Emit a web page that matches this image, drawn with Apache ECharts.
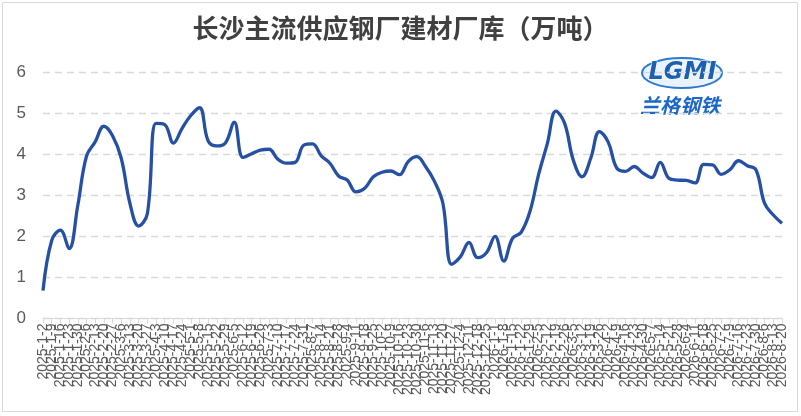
<!DOCTYPE html>
<html>
<head>
<meta charset="utf-8">
<script src="https://cdn.jsdelivr.net/npm/echarts@6/dist/echarts.min.js"></script>
<style>
html,body{margin:0;padding:0;background:#fff;}
#chart{width:801px;height:416px;}
</style>
</head>
<body>
<div id="chart"></div>
<script>
var titleText = '长沙主流供应钢厂建材厂库（万吨）';
var dates = [
'2025-1-2','2025-1-9','2025-1-16','2025-1-23','2025-1-30',
'2025-2-6','2025-2-13','2025-2-20','2025-2-27',
'2025-3-6','2025-3-13','2025-3-20','2025-3-27',
'2025-4-3','2025-4-10','2025-4-17','2025-4-24',
'2025-5-1','2025-5-8','2025-5-15','2025-5-22','2025-5-29',
'2025-6-5','2025-6-12','2025-6-19','2025-6-26',
'2025-7-3','2025-7-10','2025-7-17','2025-7-24','2025-7-31',
'2025-8-7','2025-8-14','2025-8-21','2025-8-28',
'2025-9-4','2025-9-11','2025-9-18','2025-9-25',
'2025-10-2','2025-10-9','2025-10-16','2025-10-23','2025-10-30',
'2025-11-6','2025-11-13','2025-11-20','2025-11-27',
'2025-12-4','2025-12-11','2025-12-18','2025-12-25',
'2026-1-1','2026-1-8','2026-1-15','2026-1-22','2026-1-29',
'2026-2-5','2026-2-12','2026-2-19','2026-2-26',
'2026-3-5','2026-3-12','2026-3-19','2026-3-26',
'2026-4-2','2026-4-9','2026-4-16','2026-4-23','2026-4-30',
'2026-5-7','2026-5-14','2026-5-21','2026-5-28',
'2026-6-4','2026-6-11','2026-6-18','2026-6-25',
'2026-7-2','2026-7-9','2026-7-16','2026-7-23','2026-7-30',
'2026-8-6','2026-8-13','2026-8-20'
];
var inventory = [
0.68,1.90,2.15,1.70,2.75,3.95,4.30,4.68,4.45,3.90,
2.80,2.25,2.55,4.75,4.72,4.27,4.63,4.94,5.13,4.32,
4.20,4.28,4.78,3.92,4.01,4.10,4.12,3.88,3.78,3.80,
4.22,4.25,3.96,3.78,3.47,3.37,3.08,3.17,3.45,3.56,
3.59,3.50,3.82,3.94,3.70,3.35,2.80,1.32,1.50,1.85,
1.48,1.60,2.00,1.40,1.95,2.10,2.60,3.50,4.25,5.05,
4.75,3.85,3.45,3.90,4.55,4.30,3.66,3.58,3.70,3.54,
3.43,3.80,3.41,3.37,3.36,3.30,3.75,3.74,3.51,3.62,
3.84,3.72,3.62,2.80,2.52,2.32
];
var yTicks = {min:0, max:6, interval:1};
var logoText = 'LGMI';
var logoSub = '兰格钢铁';

var chart = echarts.init(document.getElementById('chart'), null, {renderer:'canvas'});
chart.setOption({
  animation:false,
  backgroundColor:'#fff',
  title:{
    text:titleText, left:'center', top:10,
    textStyle:{fontFamily:'Noto Sans CJK SC', fontSize:26, fontWeight:'bold', color:'#404040'}
  },
  grid:{left:43, right:19, top:72, bottom:97.5, containLabel:false},
  xAxis:{
    type:'category', data:dates, boundaryGap:false,
    axisLine:{lineStyle:{color:'#d9d9d9', width:1}},
    axisTick:{show:true, length:5, interval:0, lineStyle:{color:'#d9d9d9'}},
    axisLabel:{interval:0, rotate:90, fontSize:14, color:'#595959', fontFamily:'Liberation Sans', margin:5}
  },
  yAxis:{
    type:'value', min:yTicks.min, max:yTicks.max, interval:yTicks.interval,
    axisLine:{show:false}, axisTick:{show:false},
    axisLabel:{fontSize:17, color:'#595959', fontFamily:'Liberation Sans', margin:17},
    splitLine:{lineStyle:{color:'#d9d9d9', type:[7,5], width:1.4}}
  },
  series:[{
    type:'line', data:inventory, smooth:0.4, symbol:'none',
    lineStyle:{color:'#2550A3', width:3.3}
  }],
  graphic:[
    {type:'rect', shape:{x:2.5, y:2.5, width:795, height:409}, style:{fill:'none', stroke:'#d9d9d9', lineWidth:1}, silent:true},
    {type:'ellipse', shape:{cx:682, cy:73, rx:40, ry:15}, style:{fill:'#eaf3fc', stroke:'#2a7ad0', lineWidth:2}, silent:true},
    {type:'text', left:648, top:60, style:{text:logoText, fontSize:24, fontStyle:'italic', fontWeight:'bold', fontFamily:'DejaVu Sans', fill:'#1c5fb3', stroke:'#ffffff', lineWidth:1}, silent:true},
    {type:'text', left:640, top:95, style:{text:logoSub, fontSize:20, fontWeight:'bold', fontStyle:'italic', fontFamily:'Noto Sans CJK SC', fill:'#1b66c9'}, silent:true}
  ]
});
</script>
</body>
</html>
